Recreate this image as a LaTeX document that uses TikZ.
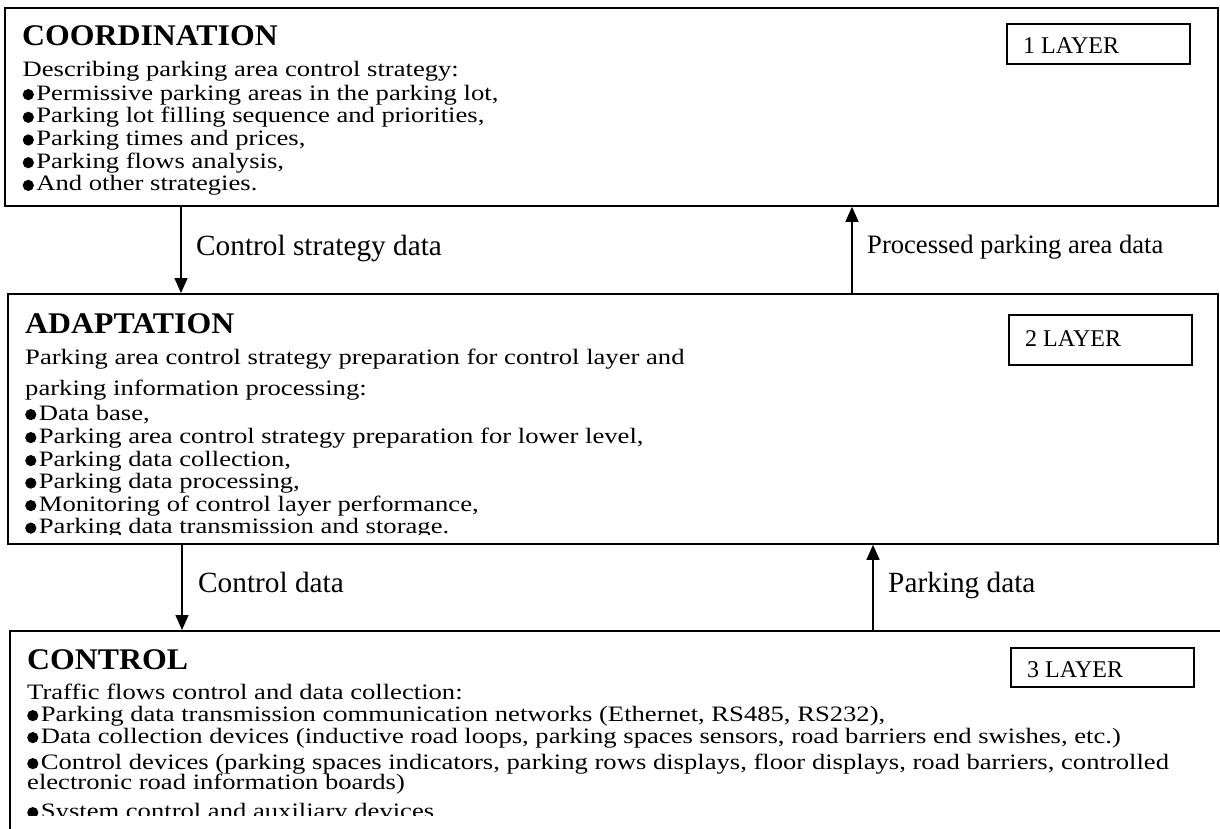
\documentclass[tikz,border=0pt]{standalone}
\usepackage{fontspec}
\setmainfont{Liberation Serif}
\newfontfamily\bodyfont[FakeStretch=1.21]{Liberation Serif}
\newfontfamily\headfont[FakeStretch=1.06]{Liberation Serif}
\usetikzlibrary{arrows.meta}
\newcommand\bul{\tikz[baseline=0pt,x=1pt,y=1pt]\fill (5.6,5.4) circle (5.6);\hspace{2.5pt}}
\tikzset{
  layerbox/.style={draw, line width=1.8pt, inner sep=0pt, anchor=north west},
  tagbox/.style={draw, line width=1.6pt, inner sep=0pt, anchor=north west, minimum width=183pt},
  tagtext/.style={anchor=base west, inner sep=0pt, font=\fontsize{24}{24}\selectfont},
  head/.style={anchor=base west, inner sep=0pt, font=\headfont\bfseries\fontsize{30}{30}\selectfont},
  body/.style={anchor=base west, inner sep=0pt, font=\bodyfont\fontsize{22}{22}\selectfont},
  lab/.style={anchor=base west, inner sep=0pt, font=\fontsize{29.3}{29.3}\selectfont},
  flow/.style={line width=1.5pt, -{Triangle[width=13pt,length=15pt]}},
}
\begin{document}
\begin{tikzpicture}[x=1pt,y=-1pt]
\useasboundingbox (0,0) rectangle (1220,828);
\clip (0,0) rectangle (1220,828);
\fill[white] (0,0) rectangle (1220,828);

% layer boxes
\node[layerbox, minimum width=1213pt, minimum height=198pt] (coord) at (4,7) {};
\node[layerbox, minimum width=1210pt, minimum height=250pt] (adapt) at (7,293) {};
\node[layerbox, minimum width=1240pt, minimum height=230pt] (ctrl) at (9,630) {};

% tags
\node[tagbox, minimum height=40pt] (tag1) at (1006,23) {};
\node[tagtext] (tag1t) at (1023,53) {1 LAYER};
\node[tagbox, minimum height=50pt] (tag2) at (1008,314) {};
\node[tagtext] (tag2t) at (1025,346) {2 LAYER};
\node[tagbox, minimum height=39pt] (tag3) at (1010,647) {};
\node[tagtext] (tag3t) at (1027,677) {3 LAYER};

% coordination text
\begin{scope}
\clip (4,7) rectangle (1217,195.5);
\node[head] (h1) at (22,45) {COORDINATION};
\node[body] (c0) at (22.5,76) {Describing parking area control strategy:};
\node[body] (c1) at (22.5,100) {\bul Permissive parking areas in the parking lot,};
\node[body] (c2) at (22.5,122.7) {\bul Parking lot filling sequence and priorities,};
\node[body] (c3) at (22.5,145.4) {\bul Parking times and prices,};
\node[body] (c4) at (22.5,168.1) {\bul Parking flows analysis,};
\node[body] (c5) at (22.5,190.8) {\bul And other strategies.};
\end{scope}

% adaptation text
\begin{scope}
\clip (7,293) rectangle (1217,534.5);
\node[head] (h2) at (25,333) {ADAPTATION};
\node[body] (a0) at (25,364) {Parking area control strategy preparation for control layer and};
\node[body] (a1) at (25,395) {parking information processing:};
\node[body] (a2) at (25,420) {\bul Data base,};
\node[body] (a3) at (25,443) {\bul Parking area control strategy preparation for lower level,};
\node[body] (a4) at (25,466) {\bul Parking data collection,};
\node[body] (a5) at (25,488.5) {\bul Parking data processing,};
\node[body] (a6) at (25,511) {\bul Monitoring of control layer performance,};
\node[body] (a7) at (25,533.5) {\bul Parking data transmission and storage.};
\end{scope}

% control text
\begin{scope}
\clip (9,630) rectangle (1220,815);
\node[head] (h3) at (27,669) {CONTROL};
\node[body] (k0) at (27,699) {Traffic flows control and data collection:};
\node[body] (k1) at (27,721) {\bul Parking data transmission communication networks (Ethernet, RS485, RS232),};
\node[body] (k2) at (27,743) {\bul Data collection devices (inductive road loops, parking spaces sensors, road barriers end swishes, etc.)};
\node[body] (k3) at (27,769) {\bul Control devices (parking spaces indicators, parking rows displays, floor displays, road barriers, controlled};
\node[body] (k4) at (27,789) {electronic road information boards)};
\node[body] (k5) at (27,818) {\bul System control and auxiliary devices};
\end{scope}

% flows
\draw[flow] (coord.south -| 181,0) -- (adapt.north -| 181,0);
\draw[flow] (adapt.north -| 852,0) -- (coord.south -| 852,0);
\draw[flow] (adapt.south -| 182,0) -- (ctrl.north -| 182,0);
\draw[flow] (ctrl.north -| 873,0) -- (adapt.south -| 873,0);

% flow labels
\node[lab] (l1) at (196,255) {Control strategy data};
\node[lab, font=\fontsize{26.6}{26.6}\selectfont] (l2) at (867,253) {Processed parking area data};
\node[lab] (l3) at (198,592) {Control data};
\node[lab] (l4) at (888,592) {Parking data};
\end{tikzpicture}
\end{document}
